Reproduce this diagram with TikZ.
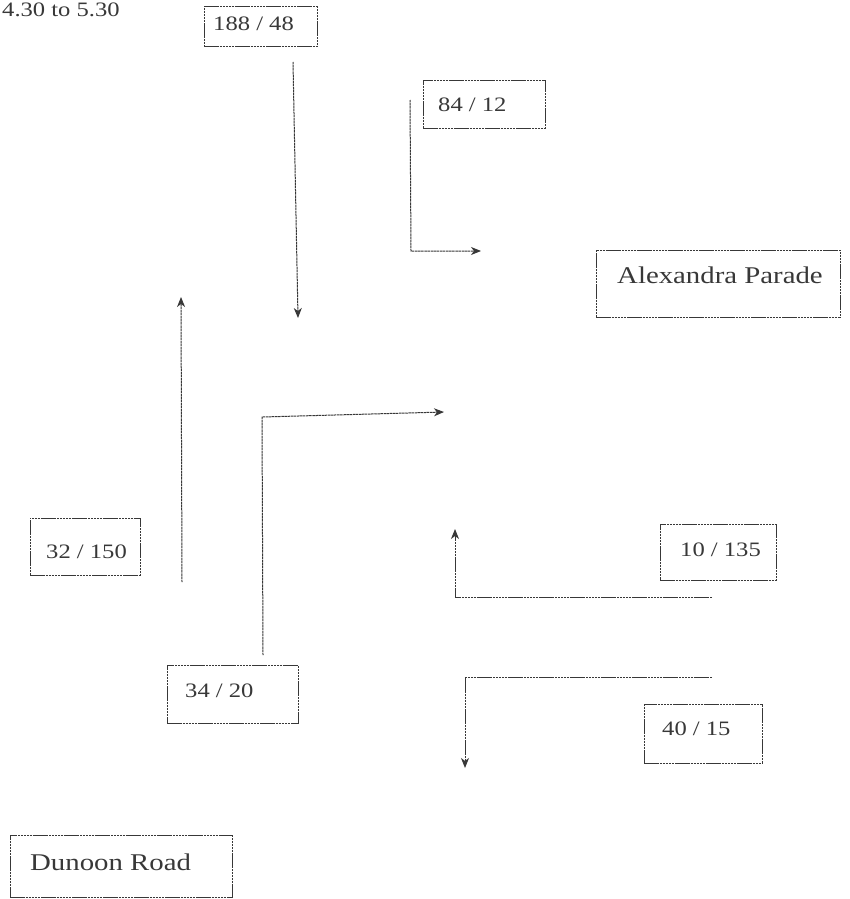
\documentclass[tikz,border=0pt]{standalone}
\usepackage{fontspec}
\usetikzlibrary{arrows.meta}
\newfontfamily\countfont[FakeStretch=1.2]{Liberation Serif}
\newfontfamily\roadfont[FakeStretch=1.2]{Liberation Serif}
\definecolor{inkline}{gray}{0.22}
\definecolor{inktext}{gray}{0.22}
\tikzset{
  countbox/.style={draw=inkline, line width=1pt, inner sep=0pt,
                   dash pattern=on 2.5pt off 0.6pt},
  countlbl/.style={anchor=base west, inner sep=0pt, text=inktext,
                   font=\countfont\fontsize{20.5}{24}\selectfont},
  roadlbl/.style={anchor=base west, inner sep=0pt, text=inktext,
                  font=\roadfont\fontsize{24}{28}\selectfont},
  flow/.style={draw=inkline, line width=1pt, dash pattern=on 2.5pt off 0.6pt,
               -{Stealth[length=10pt,width=8pt,inset=3pt]}}
}
\begin{document}
\begin{tikzpicture}[x=1pt, y=-1pt]
  \useasboundingbox (0,0) rectangle (850,899);

  % time period
  \node[countlbl] (period) at (2,17) {4.30 to 5.30};

  % count boxes
  \node[countbox, minimum width=113pt, minimum height=40pt] (b1) at (260.5,27) {};
  \node[countbox, minimum width=122pt, minimum height=48pt] (b2) at (484,104) {};
  \node[countbox, minimum width=244pt, minimum height=67pt] (b3) at (718,283.5) {};
  \node[countbox, minimum width=110pt, minimum height=57pt] (b4) at (85,546.5) {};
  \node[countbox, minimum width=116pt, minimum height=56pt] (b5) at (718,552) {};
  \node[countbox, minimum width=131pt, minimum height=58pt] (b6) at (232.5,694) {};
  \node[countbox, minimum width=118pt, minimum height=59pt] (b7) at (703,733.5) {};
  \node[countbox, minimum width=222pt, minimum height=62pt] (b8) at (121,866) {};

  % box texts
  \node[countlbl] (t1) at (213,31) {188 / 48};
  \node[countlbl] (t2) at (438,111) {84 / 12};
  \node[roadlbl]  (t3) at (617,283) {Alexandra Parade};
  \node[countlbl] (t4) at (46,558) {32 / 150};
  \node[countlbl] (t5) at (680,556) {10 / 135};
  \node[countlbl] (t6) at (185,697) {34 / 20};
  \node[countlbl] (t7) at (662,735) {40 / 15};
  \node[roadlbl]  (t8) at (30,870) {Dunoon Road};

  % turning movement end points
  \coordinate (a1s) at (293,62);   \coordinate (a1e) at (298,318);
  \coordinate (a2s) at (410,100);  \coordinate (a2k) at (411,251);  \coordinate (a2e) at (481,251);
  \coordinate (a3s) at (182,582);  \coordinate (a3e) at (181,297);
  \coordinate (a4s) at (263,655);  \coordinate (a4k) at (262,417);  \coordinate (a4e) at (444,412);
  \coordinate (a5s) at (712,597);  \coordinate (a5k) at (455,597);  \coordinate (a5e) at (455,529);
  \coordinate (a6s) at (712,677);  \coordinate (a6k) at (465,677);  \coordinate (a6e) at (465,768);

  % turning movements
  \draw[flow] (a1s) -- (a1e);
  \draw[flow] (a2s) -- (a2k) -- (a2e);
  \draw[flow] (a3s) -- (a3e);
  \draw[flow] (a4s) -- (a4k) -- (a4e);
  \draw[flow] (a5s) -- (a5k) -- (a5e);
  \draw[flow] (a6s) -- (a6k) -- (a6e);
\end{tikzpicture}
\end{document}
